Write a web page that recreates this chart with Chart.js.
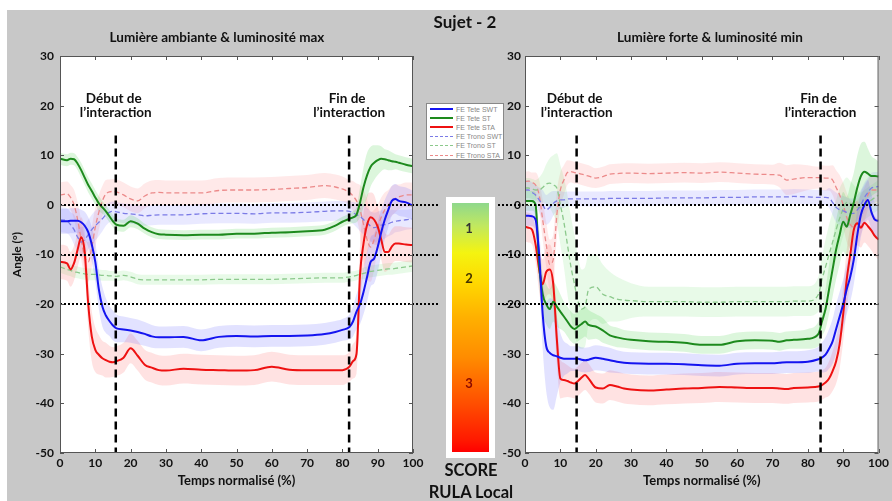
<!DOCTYPE html>
<html><head><meta charset="utf-8">
<script src="https://cdn.jsdelivr.net/npm/chart.js@4/dist/chart.umd.min.js"></script>
<style>
body{margin:0;width:892px;height:501px;position:relative;overflow:hidden;background:#fff;font-family:Lato,'Liberation Sans',sans-serif;}
#bg{position:absolute;left:7px;top:10px;width:885px;height:491px;background:#c8c8c8;}
canvas{position:absolute;top:0}
#cL{left:0px}
#cR{left:494px}
.t{position:absolute;font-weight:bold;color:#111;white-space:nowrap;transform:translate(-50%,-50%);line-height:1;}
#legend{position:absolute;left:426px;top:103px;width:76px;height:55px;background:#fff;border:1px solid #888;z-index:5;}
.row{position:absolute;left:2px;height:9px;width:74px;}
.ln{position:absolute;left:1px;width:23px;top:4px;}
.lt{position:absolute;left:27px;top:0px;font-family:'Liberation Sans',Arial,sans-serif;font-size:7px;color:#888;line-height:9px;white-space:nowrap;}
#bar{position:absolute;left:446px;top:197px;width:37px;height:249px;border:6px solid #fff;z-index:5;
 background:linear-gradient(to bottom,#8fd88c 0%,#c0e860 9%,#f4f410 20%,#ffd800 32%,#ffb000 46%,#ff8c00 62%,#ff5000 80%,#ff1a00 95%,#ff0000 100%);}
.sc{position:absolute;z-index:6;font-weight:bold;font-size:13px;transform:translate(-50%,-50%);}
</style></head>
<body>
<div id="bg"></div>
<canvas id="cL" width="446" height="501"></canvas>
<canvas id="cR" width="398" height="501"></canvas>
<div class="t" style="left:465px;top:21px;font-size:17px;">Sujet - 2</div>
<div class="t" style="left:217px;top:38px;font-size:13.5px;">Lumière ambiante &amp; luminosité max</div>
<div class="t" style="left:710px;top:38px;font-size:13.5px;">Lumière forte &amp; luminosité min</div>
<div id="legend"></div>
<div id="bar"></div>
<div class="sc" style="left:469px;top:228px;color:#333;">1</div>
<div class="sc" style="left:469px;top:278px;color:#443300;">2</div>
<div class="sc" style="left:469px;top:383px;color:#8a0a00;">3</div>
<div class="t" style="left:471px;top:470px;font-size:16.5px;">SCORE</div>
<div class="t" style="left:471px;top:492px;font-size:16.5px;">RULA Local</div>
<script>
// ---------- DATA ----------
const seriesNames = ['FE Tete SWT','FE Tete ST','FE Tete STA','FE Trono SWT','FE Trono ST','FE Trono STA'];
const xTicks = [0,10,20,30,40,50,60,70,80,90,100];
const yTicks = [30,20,10,0,-10,-20,-30,-40,-50];
const refLevels = [0,-10,-20];

// Left panel: Lumière ambiante & luminosité max
const tL = [0,2,3,4,5,6,7,8,9,10,11,12,13,14,15,16,18,20,22,24,26,28,30,35,40,45,50,55,60,65,70,75,78,80,82,83,84,85,86,87,88,89,90,91,92,93,94,95,96,98,100];
const L_teteSWT = [-3.3,-3.3,-3.2,-3.2,-3.2,-3.5,-4.2,-5.5,-8,-11.5,-17,-20.5,-22.3,-23.4,-24.3,-24.9,-25.1,-25.3,-25.6,-26,-26.5,-26.7,-26.7,-26.6,-27.3,-26.6,-26.4,-26.5,-26.4,-26.4,-26.3,-26,-25.6,-25.2,-24.6,-23.5,-21.5,-20,-17.5,-14.5,-11.5,-10.8,-8.5,-5.5,-3,-1,0.8,1.2,0.8,0.5,-0.2];
const L_teteSWT_sd = [2.5,2.5,2.5,2.5,2.5,2.5,2.8,3,3.5,4,4,4,3.5,3,3,2.8,2.6,2.5,2.5,2.4,2.3,2.2,2.2,2.2,2.2,2.2,2.2,2.2,2.2,2.2,2.2,2.2,2.2,2.2,2.5,3,3.5,4,4.5,5,5,5,5,4.5,4,3.5,3,3,3,3,3];
const L_teteST = [9.3,9,9.3,9.2,8.3,7,5.5,4,2.8,1.5,0.3,-0.5,-1.3,-2.3,-3.3,-4,-4.2,-3.3,-3.8,-4.8,-5.5,-5.9,-6,-6.1,-6,-6,-5.8,-5.8,-5.6,-5.5,-5.3,-5,-4.2,-3.4,-2.8,-2.5,-2,0.5,3.6,6,7.7,8.5,9,9.3,9.2,9,8.8,8.7,8.5,8.1,7.8];
const L_teteST_sd = [1.2,1.2,1.2,1.2,1.3,1.5,1.5,1.5,1.5,1.5,1.5,1.3,1.2,1.2,1.2,1.2,1.2,1.2,1.1,1,1,1,1,1,1,1,1,1,1,1,1,1,1,1,1,1.2,1.5,3,4,4.5,4,3.5,3,2.5,2,2,1.8,1.5,1.5,1.5,1.5];
const L_teteSTA = [-11.5,-11.8,-13,-11.7,-9,-6.5,-9.5,-20,-26.5,-29.2,-30.2,-30.9,-31.3,-31.6,-31.7,-31.5,-30.8,-28.9,-30.4,-32.2,-32.8,-33.3,-33.4,-33,-33.2,-33.3,-33.4,-33.3,-32.6,-33.2,-33.3,-33.3,-33.3,-33.3,-32.6,-31.5,-30,-14,-7.7,-4,-2.5,-3,-4.4,-7,-9.5,-9.5,-8.4,-7.8,-7.8,-8,-8.1];
const L_teteSTA_sd = [3.5,3.5,3.5,3.5,3.5,4,4,5,5,4.5,4,3.5,3.5,3.2,3,3,3,3,3,3,3,3,3,3,3,3,3,3,3,3,3,3,3,3,3,3.5,4,6,6,6,5,5,4,4,4,3.5,3.5,3.5,3.5,3.5,3.5];
const L_tronoSWT = [-3,-3.2,-4,-5,-6.5,-7.5,-7,-6,-5,-4.2,-3.5,-2.8,-2,-1.5,-1.3,-1.4,-1.7,-1.8,-2,-2.2,-2.1,-2,-2,-2,-1.8,-1.7,-1.7,-1.8,-1.6,-1.6,-1.5,-1.3,-1.2,-1.2,-1.3,-1.6,-2,-2.3,-3,-3.6,-4.3,-4.6,-4.4,-4.1,-4,-3.8,-3.5,-3.3,-3.2,-3,-2.8];
const L_tronoSWT_sd = [2.5,2.5,2.5,3,3,3,3,3,3,3,2.8,2.5,2.2,2,2,2,2,2,2,2,2,2,2,2,2,2,2,2,2,2,2,2,2,2,2,2.2,2.5,3,3,3,3,3,3,3,2.8,2.5,2.5,2.2,2.2,2,2];
const L_tronoST = [-12.5,-13,-13.2,-13.5,-13.6,-13.8,-13.9,-14,-14,-14,-14.1,-14.2,-14.2,-14.3,-14.3,-14.4,-14.2,-14.5,-15,-15.1,-15.1,-15.1,-15.1,-15.1,-15.1,-15,-15,-15,-15,-14.9,-14.8,-14.7,-14.7,-14.7,-14.5,-14.4,-14.2,-14,-13.8,-13.6,-13.4,-13.3,-13.2,-13.1,-13,-12.9,-12.9,-12.8,-12.7,-12.5,-12.3];
const L_tronoST_sd = [1.2,1.2,1.2,1.2,1.2,1.2,1.2,1.2,1.2,1.2,1.1,1.1,1.1,1,1,1,1,1,1,1,1,1,1,1,1,1,1,1,1,1,1,1,1,1,1,1,1,1,1.2,1.2,1.2,1.2,1.2,1.2,1.2,1.2,1.2,1.2,1.2,1.2,1.2];
const L_tronoSTA = [2,2.2,1.5,0,-3,-7,-10.5,-11.5,-8.5,-4.5,-1.5,0.8,2.2,2.6,2.7,2.6,2,1.2,0.8,1.8,2.4,2.5,2.4,2.4,2.4,2.9,3,3,3.1,3.3,3.5,3.9,3.6,3.2,2.5,1.8,0.8,-1,-4,-7,-8.5,-7,-4.5,-2.5,-1,0,0.8,1.3,1.6,2,2];
const L_tronoSTA_sd = [2.5,2.5,2.5,3,3.5,4,4,4,4,4,3.5,3,2.8,2.5,2.5,2.5,2.5,2.5,2.5,2.5,2.5,2.5,2.5,2.5,2.5,2.5,2.5,2.5,2.5,2.5,2.5,2.5,2.5,2.5,2.5,3,3.5,5,7,8,7,6,4.5,4,3.5,3,3,2.8,2.5,2.5,2.5];
const vLinesL = [15.8, 81.9];

// Right panel: Lumière forte & luminosité min
const tR = [0,1,2,3,4,5,6,7,8,9,10,11,12,13,14,15,16,17,18,20,22,24,26,28,30,35,40,45,50,55,60,65,70,72,74,76,80,83,84,85,86,87,88,89,90,91,92,93,94,95,96,97,98,99,100];
const R_teteSWT = [-2.2,-2.2,-2.3,-3,-10,-22,-28.5,-29.8,-30.3,-30.5,-30.8,-31,-31,-31,-31,-31,-31.2,-31.3,-31.2,-30.8,-31,-31.3,-31.6,-31.8,-31.9,-32,-32,-32.1,-32.3,-32.4,-32,-31.9,-31.9,-31.8,-31.7,-31.7,-31.6,-31.1,-30.8,-30.2,-29,-27.5,-25,-22.5,-20,-17,-14.5,-11,-6,-2,0,1,-1.5,-3,-3.2];
const R_teteSWT_sd = [2,2,2,2.5,5,7,9,11,11,8,5,3.5,3,2.5,2.5,2.5,2.5,2.5,2.5,2.5,2.5,2.5,2.3,2.2,2.2,2.2,2.2,2.2,2.2,2.2,2.2,2.2,2.2,2.2,2.2,2.2,2.3,2.5,3,3.5,4,4.5,5,5,5,5,5,5,5,4.5,4,4,3.5,3.5,3.5];
const R_teteST = [0.8,0.8,0.8,0,-12,-18,-20,-21,-19.5,-20.5,-21.5,-22.5,-23.5,-24.5,-25,-24.5,-24,-23.5,-24.2,-24.5,-25.3,-26.3,-26.7,-27,-27.2,-27.5,-27.6,-27.8,-28.2,-28.2,-27.5,-27.3,-27.4,-27.6,-27.3,-27.2,-27,-26,-23.5,-21,-17,-13,-9,-6,-3.4,-4.4,-2,0.5,3.5,5.8,6.7,6.3,5.8,5.8,5.7];
const R_teteST_sd = [2,2,2,2.5,4,4,4,4,4,4,3.5,3,3,3,3,3,3,3,3,2.5,2.5,2,2,1.8,1.8,1.8,1.8,1.8,1.8,1.8,1.8,1.8,1.8,1.8,1.8,1.8,2,2.5,3,4,5,5.5,6,6,6,6,6,6,6.5,6.5,6,5,4,3.5,3];
const R_teteSTA = [-4.4,-4.6,-5,-8,-13,-16,-13.5,-13,-16,-27,-35,-35.3,-35.5,-35.8,-36,-35.5,-34.8,-34.3,-35,-36.8,-37,-36.3,-36.6,-37,-37.2,-37.4,-37.2,-37,-36.9,-36.7,-36.8,-36.9,-36.9,-37,-37.1,-36.9,-36.8,-36.6,-36.3,-35.8,-35,-33.5,-31.5,-28,-22,-15,-10,-5,-3.7,-4.6,-3.6,-4.3,-5.2,-6.3,-7];
const R_teteSTA_sd = [3,3,3,3.5,4.5,5,5,5,5,5,4,3.5,3.2,3,3,3,3,3,3,3,3,3,3,3,3,3,3,3,3,3,3,3,3,3,3,3,3,3,3,3,3.5,4,4.5,5,5.5,6,5.5,5,4.5,4,4,4,4,4,4];
const R_tronoSWT = [3,3,2.5,2,1,0,-1,-0.5,0.3,0.8,1,1,1.2,1.2,1.2,1.2,1.2,1.2,1.2,1.2,1.2,1.3,1.3,1.3,1.3,1.3,1.4,1.4,1.4,1.5,1.5,1.6,1.6,1.6,1.6,1.7,1.6,1.5,1.5,1.5,1.4,0.5,-0.5,-1,-1.2,-1.5,-1.7,-1.7,-1,0,1.5,2.5,3.4,3.6,3.7];
const R_tronoSWT_sd = [2,2,2,2,2.5,3,3,3,2.5,2,1.8,1.6,1.5,1.5,1.5,1.5,1.5,1.5,1.5,1.5,1.5,1.5,1.5,1.5,1.5,1.5,1.5,1.5,1.5,1.5,1.5,1.5,1.5,1.5,1.5,1.5,1.5,1.5,1.5,1.5,2,2.5,3,3,3,3,3,3,3,3,3,3,3,3,3];
const R_tronoST = [3.4,3.4,3.2,3,3,3.5,4.2,4.4,4,3.4,0,-3.5,-8,-12.5,-16,-19.5,-21,-20.5,-17,-16.5,-18,-18.5,-19,-19.2,-19.3,-19.5,-19.5,-19.5,-19.6,-19.6,-19.5,-19.5,-19.5,-19.5,-19.5,-19.4,-19.4,-18,-15,-12.5,-10,-7.5,-5,-2.7,-0.8,0.5,0.3,0,-0.5,-0.5,0,0.5,1,1.5,2];
const R_tronoST_sd = [2,2,2,2,2.5,3,4,5,6,7,8,9,10,10,10,9,8,8,7,6.5,6,5,4.5,4,3.5,3,3,3,3,3,3,3,3,3,3,3,3,3.5,4.5,5.5,6,6,6,6,5.5,5,4.5,4,3.5,3,3,3,3,3,3];
const R_tronoSTA = [4.7,4.8,4.5,4,2,-3,-8,-12,-11,-2,3,5,6.5,6.7,6.5,6.4,6.2,6,5.8,5.4,5.7,6.2,6.3,6.4,6.4,6.3,6.4,6.5,6.4,6.6,6.4,6.2,6.1,6,5,5.2,5.5,5.5,5.5,5.4,5.4,5,3.5,2,0,-2.5,-4,-4.5,-3.5,-2,0,2,3,3,3];
const R_tronoSTA_sd = [2,2,2,2.5,3,4,4.5,5,5,4.5,3.5,3,2.5,2.2,2.2,2.2,2.2,2.2,2.2,2,2,2,2,2,2,2,2,2,2,2,2,2,2,2.5,3,3,2.5,2.2,2.5,2.5,2.5,3,3.5,4,4.5,5,5,5,4.5,4,3.5,3,3,3,3];
const vLinesR = [14.6, 83.6];

// ---------- STYLES ----------
const styles = [
  {color:'#1414f0', band:'rgba(110,110,255,0.20)', w:2, dash:null},
  {color:'#1d8a1d', band:'rgba(80,210,80,0.20)', w:2, dash:null},
  {color:'#ee1111', band:'rgba(255,110,110,0.20)', w:2, dash:null},
  {color:'#7b7be6', band:'rgba(120,120,255,0.16)', w:1.3, dash:[5,3]},
  {color:'#8cc98c', band:'rgba(100,220,100,0.15)', w:1.3, dash:[5,3]},
  {color:'#ec8a8a', band:'rgba(255,120,120,0.16)', w:1.3, dash:[5,3]}
];

// legend
const leg = document.getElementById('legend');
seriesNames.forEach((n,i)=>{
  const r = document.createElement('div'); r.className='row'; r.style.top=(1+i*9.1)+'px';
  const l = document.createElement('div'); l.className='ln';
  const s = styles[i];
  l.style.borderTop = s.dash ? ('1px dashed '+s.color) : ('2px solid '+s.color);
  if(!s.dash) l.style.top='3px';
  const tx = document.createElement('div'); tx.className='lt'; tx.textContent=n;
  r.appendChild(l); r.appendChild(tx); leg.appendChild(r);
});

function buildDatasets(xs, vals, sds, vlines){
  const ds = [];
  vals.forEach((v,k)=>{
    const s = styles[k], sd = sds[k];
    ds.push({data: xs.map((x,i)=>({x, y: v[i]+sd[i]})), fill:'+1', backgroundColor:s.band,
      borderColor:'rgba(0,0,0,0)', borderWidth:0, pointRadius:0, order:10, cubicInterpolationMode:'monotone'});
    ds.push({data: xs.map((x,i)=>({x, y: v[i]-sd[i]})), fill:false, backgroundColor:'rgba(0,0,0,0)',
      borderColor:'rgba(0,0,0,0)', borderWidth:0, pointRadius:0, order:10, cubicInterpolationMode:'monotone'});
  });
  [3,4,5,0,1,2].forEach(k=>{
    const s = styles[k];
    ds.push({data: xs.map((x,i)=>({x, y: vals[k][i]})), borderColor:s.color, borderWidth:s.w,
      borderDash: s.dash||[], pointRadius:0, fill:false, order: s.dash?3:2, cubicInterpolationMode:'monotone'});
  });
  vlines.forEach(xv=>{
    ds.push({data:[{x:xv,y:14},{x:xv,y:-50}], borderColor:'#000', borderWidth:2.5, borderDash:[8,5],
      pointRadius:0, fill:false, order:0});
  });
  return ds;
}

const font = 'Lato, "Liberation Sans", sans-serif';

function makePlugin(dotFrom, dotTo, vlines){
  return {
    id:'deco',
    beforeDatasetsDraw(chart){
      const {ctx, chartArea:a} = chart;
      ctx.save(); ctx.fillStyle='#fff'; ctx.fillRect(a.left,a.top,a.right-a.left,a.bottom-a.top); ctx.restore();
    },
    afterDatasetsDraw(chart){
      const {ctx, chartArea:a, scales:{x,y}} = chart;
      ctx.save();
      ctx.strokeStyle='#000'; ctx.lineWidth=2; ctx.setLineDash([2,2]);
      refLevels.forEach(v=>{
        const py = Math.round(y.getPixelForValue(v));
        ctx.beginPath(); ctx.moveTo(dotFrom==null?a.left:dotFrom, py); ctx.lineTo(dotTo==null?a.right:dotTo, py); ctx.stroke();
      });
      ctx.setLineDash([]);
      ctx.strokeStyle='#555'; ctx.lineWidth=1;
      ctx.strokeRect(a.left+0.5,a.top+0.5,a.right-a.left-1,a.bottom-a.top-1);
      ctx.beginPath();
      xTicks.forEach(v=>{const px=Math.round(x.getPixelForValue(v))+0.5;
        ctx.moveTo(px,a.bottom); ctx.lineTo(px,a.bottom-4); ctx.moveTo(px,a.top); ctx.lineTo(px,a.top+4);});
      yTicks.forEach(v=>{const py=Math.round(y.getPixelForValue(v))+0.5;
        ctx.moveTo(a.left,py); ctx.lineTo(a.left+4,py); ctx.moveTo(a.right,py); ctx.lineTo(a.right-4,py);});
      ctx.stroke();
      ctx.fillStyle='#111'; ctx.font='bold 13.5px '+font; ctx.textAlign='center'; ctx.textBaseline='middle';
      const labels=[['Début de','l’interaction'],['Fin de','l’interaction']];
      vlines.forEach((xv,i)=>{
        const px = x.getPixelForValue(xv);
        ctx.fillText(labels[i][0], px-2, y.getPixelForValue(21.5));
        ctx.fillText(labels[i][1], px, y.getPixelForValue(18.5));
      });
      ctx.restore();
    }
  };
}

function makeChart(id, xs, vals, sds, vlines, opts){
  return new Chart(document.getElementById(id), {
    type:'line',
    data:{datasets: buildDatasets(xs, vals, sds, vlines)},
    options:{
      responsive:false, animation:false, devicePixelRatio:1,
      layout:{padding:{left:0, right:opts.padRight, top:56, bottom:0}},
      plugins:{legend:{display:false}, tooltip:{enabled:false}, title:{display:false}},
      scales:{
        x:{type:'linear', min:0, max:100, afterFit(s){s.height=48;},
          grid:{display:false, drawTicks:false}, border:{display:false},
          ticks:{stepSize:10, padding:3, color:'#111', font:{family:font, weight:'bold', size:12}, maxRotation:0},
          title:{display:true, text:'Temps normalisé (%)', color:'#111', font:{family:font, weight:'bold', size:13}, padding:{top:0,bottom:12}}
        },
        y:{type:'linear', min:-50, max:30, afterFit(s){s.width=opts.yWidth;},
          grid:{display:false, drawTicks:false}, border:{display:false},
          ticks:{stepSize:10, padding:opts.tickPad, color:'#111', font:{family:font, weight:'bold', size:12}},
          title:{display:opts.yTitle, text:'Angle (°)', color:'#111', font:{family:font, weight:'bold', size:12}, padding:{top:10,bottom:0}}
        }
      }
    },
    plugins:[makePlugin(opts.dotFrom, opts.dotTo, vlines)]
  });
}

makeChart('cL', tL,
  [L_teteSWT,L_teteST,L_teteSTA,L_tronoSWT,L_tronoST,L_tronoSTA],
  [L_teteSWT_sd,L_teteST_sd,L_teteSTA_sd,L_tronoSWT_sd,L_tronoST_sd,L_tronoSTA_sd],
  vLinesL, {padRight:33, yWidth:60, tickPad:6, yTitle:true, dotFrom:null, dotTo:438});
makeChart('cR', tR,
  [R_teteSWT,R_teteST,R_teteSTA,R_tronoSWT,R_tronoST,R_tronoSTA],
  [R_teteSWT_sd,R_teteST_sd,R_teteSTA_sd,R_tronoSWT_sd,R_tronoST_sd,R_tronoSTA_sd],
  vLinesR, {padRight:12, yWidth:31, tickPad:4, yTitle:false, dotFrom:4, dotTo:null});
</script>
</body></html>
